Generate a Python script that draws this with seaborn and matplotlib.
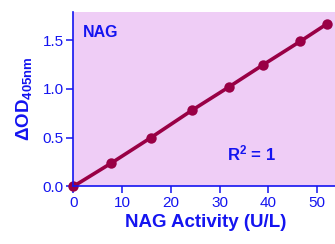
import matplotlib
matplotlib.use("Agg")
import matplotlib.pyplot as plt
import pandas as pd
import seaborn as sns

# values
activity = [0, 7.8, 15.9, 24.3, 31.9, 39.0, 46.6, 52.1]
delta_od = [0.0, 0.24, 0.50, 0.78, 1.02, 1.25, 1.49, 1.67]
x_ticks = [0, 10, 20, 30, 40, 50]
y_ticks = [0.0, 0.5, 1.0, 1.5]

BLUE = "#1414f0"
LINE = "#990045"
BG = "#efcdf6"

sns.set_theme(style="ticks")
plt.rcParams["font.family"] = ["Liberation Sans", "DejaVu Sans"]
plt.rcParams.update({
    "mathtext.fontset": "custom",
    "mathtext.rm": "Liberation Sans:bold",
    "mathtext.bf": "Liberation Sans:bold",
    "mathtext.it": "Liberation Sans:bold",
})

df = pd.DataFrame({"activity": activity, "od": delta_od})

fig = plt.figure(figsize=(3.35, 2.44), dpi=100)
ax = fig.add_axes([0.219, 0.236, 0.79, 0.715])
ax.set_facecolor(BG)

sns.lineplot(data=df, x="activity", y="od", ax=ax, color=LINE, linewidth=2.6,
             marker="o", markersize=7.5, markeredgewidth=0, clip_on=False)

ax.set_xlim(0, 54.3)
ax.set_ylim(0, 1.79)
ax.set_xticks(x_ticks)
ax.set_yticks(y_ticks)
ax.set_yticklabels([f"{v:.1f}" for v in y_ticks])

for side in ("top", "right"):
    ax.spines[side].set_visible(False)
for side in ("left", "bottom"):
    ax.spines[side].set_color(BLUE)
    ax.spines[side].set_linewidth(1.2)
ax.tick_params(colors=BLUE, labelsize=11, length=5, width=1.1, pad=2)

ax.set_xlabel("NAG Activity (U/L)", color=BLUE, fontsize=13.5, fontweight="bold", labelpad=3)
ax.set_ylabel(r"ΔOD$_{405nm}$", color=BLUE, fontsize=13.5, fontweight="bold", labelpad=6)

ax.text(0.035, 0.885, "NAG", transform=ax.transAxes, color=BLUE,
        fontsize=11.5, fontweight="bold", va="center")
ax.text(0.58, 0.19, r"R$^{2}$ = 1", transform=ax.transAxes, color=BLUE,
        fontsize=12, fontweight="bold", va="center")

fig.savefig("out.png", dpi=100)
